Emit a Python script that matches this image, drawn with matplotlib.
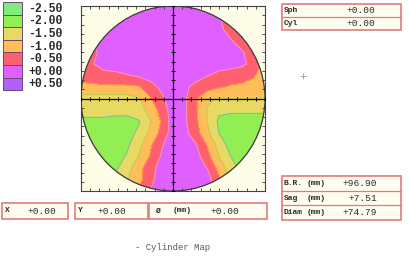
import numpy as np
import matplotlib
matplotlib.use("Agg")
import matplotlib.pyplot as plt
from matplotlib.patches import Rectangle, Circle

# legend levels and colours
legend_labels = ['-2.50', '-2.00', '-1.50', '-1.00', '-0.50', '+0.00', '+0.50']
legend_colors = ['#80ec80', '#92ee52', '#e8d864', '#ffbe5a', '#ff6070', '#e060ff', '#b060ff']
level_bounds = [-2.75, -2.25, -1.75, -1.25, -0.75, -0.25, 0.25, 0.75]

# cylinder map, 17x17 nodes, top row first (values in -0.5 D steps)
cyl_steps = [
    [0.3, 0.3, 0.2, 0.0, 0.0, 0.0, 0.0, 0.0, 0.0, 0.0, 0.0, 0.0, 0.0, 0.5, 1.0, 1.0, 1.0],
    [0.3, 0.2, 0.0, 0.0, 0.0, 0.0, 0.0, 0.0, 0.0, 0.0, 0.0, 0.0, 0.4, 1.0, 1.0, 1.0, 1.0],
    [0.4, 0.3, 0.1, 0.0, 0.0, 0.0, 0.0, 0.0, 0.0, 0.0, 0.0, 0.0, 0.2, 1.0, 1.0, 1.0, 1.0],
    [0.6, 0.4, 0.2, 0.0, 0.0, 0.0, 0.0, 0.0, 0.0, 0.0, 0.0, 0.0, 0.0, 0.4, 1.0, 1.2, 1.2],
    [1.2, 0.8, 0.1, 0.0, 0.0, 0.0, 0.0, 0.0, 0.0, 0.0, 0.0, 0.0, 0.0, 0.1, 0.4, 1.0, 1.3],
    [1.1, 0.55, 0.1, 0.0, 0.0, 0.0, 0.0, 0.0, 0.0, 0.0, 0.0, 0.0, 0.0, 0.1, 0.3, 0.8, 1.8],
    [1.2, 1.0, 0.8, 0.75, 0.55, 0.35, 0.1, 0.0, 0.0, 0.0, 0.1, 0.45, 0.8, 1.0, 1.1, 1.4, 2.0],
    [1.7, 1.7, 1.7, 1.7, 1.7, 1.6, 0.9, 0.3, 0.0, 0.3, 0.8, 1.1, 1.4, 1.6, 1.7, 1.8, 2.0],
    [2.9, 2.9, 2.9, 2.9, 2.9, 2.6, 1.6, 0.7, 0.0, 0.3, 1.4, 2.3, 2.6, 2.5, 2.5, 2.5, 2.6],
    [3.0, 3.0, 3.0, 3.1, 3.1, 2.9, 2.2, 1.1, 0.0, 0.3, 1.4, 2.6, 3.3, 3.3, 3.3, 3.3, 3.3],
    [3.8, 3.8, 3.8, 3.9, 3.9, 3.6, 2.6, 1.4, 0.0, 0.3, 1.3, 2.5, 3.7, 4.0, 4.0, 4.0, 4.0],
    [4.1, 4.1, 4.0, 4.0, 3.9, 3.3, 2.3, 1.2, 0.0, 0.2, 1.1, 2.3, 3.5, 4.0, 4.0, 4.0, 4.0],
    [4.1, 4.1, 4.1, 4.0, 3.7, 2.8, 1.7, 0.6, 0.0, 0.0, 0.45, 1.6, 2.9, 3.9, 4.0, 4.0, 4.0],
    [4.2, 4.2, 4.1, 3.9, 3.4, 2.5, 1.45, 0.4, 0.0, 0.0, 0.1, 1.2, 2.5, 3.5, 3.9, 4.0, 4.0],
    [4.3, 4.3, 4.2, 3.7, 2.9, 1.9, 0.9, 0.1, 0.0, 0.0, 0.0, 0.55, 1.9, 3.0, 3.8, 4.0, 4.0],
    [4.0, 3.8, 3.5, 3.0, 2.6, 1.9, 0.75, 0.1, 0.0, 0.0, 0.0, 0.1, 1.3, 2.5, 3.3, 3.8, 4.0],
    [3.8, 3.4, 3.0, 2.5, 2.0, 1.3, 0.5, 0.0, 0.0, 0.0, 0.0, 0.0, 0.8, 2.0, 3.0, 3.6, 4.0],
]
line_colors = ['#5cc890', '#b8d050', '#ff9a40', '#ff9a9a']
line_levels = [-1.75, -1.25, -0.75, -0.25]

# text boxes
top_box = [('Sph', '', '+0.00'), ('Cyl', '', '+0.00')]
lens_box = [('B.R.', '(mm)', '+96.90'), ('Sag', '(mm)', '+7.51'), ('Diam', '(mm)', '+74.79')]
pos_boxes = [('X', '', '+0.00'), ('Y', '', '+0.00'), ('\u00d8', '(mm)', '+0.00')]
caption = '- Cylinder Map'

W, H = 410, 256
fig = plt.figure(figsize=(W / 100, H / 100), dpi=100)
fig.patch.set_facecolor('white')
mono = 'Liberation Mono'
txt_col = '#2a2a2a'
box_edge = '#e27c7c'
box_face = '#fffdf0'

# overlay in pixel coordinates
bg = fig.add_axes([0, 0, 1, 1])
bg.set_xlim(0, W)
bg.set_ylim(H, 0)
bg.axis('off')

# legend swatches
sw_h = 12.6
for i, (lab, col) in enumerate(zip(legend_labels, legend_colors)):
    y0 = 2 + i * sw_h
    bg.add_patch(Rectangle((3, y0), 19, sw_h, facecolor=col, edgecolor='#6a4a6a', lw=0.7))
    bg.text(28, y0 + sw_h / 2 + 0.5, lab, family=mono, fontsize=8.3, fontweight='bold',
            color=txt_col, va='center', ha='left')


def draw_box(x0, y0, w, rows, row_h, label_x, unit_x, val_x):
    bg.add_patch(Rectangle((x0, y0), w, row_h * len(rows), facecolor=box_face,
                           edgecolor=box_edge, lw=1.2))
    for k, (lab, unit, val) in enumerate(rows):
        yc = y0 + row_h * (k + 0.5)
        if k > 0:
            bg.plot([x0, x0 + w], [y0 + row_h * k] * 2, color=box_edge, lw=0.9)
        bg.text(label_x, yc, lab, family=mono, fontsize=5.8, fontweight='bold',
                color=txt_col, va='center', ha='left')
        if unit:
            bg.text(unit_x, yc, unit, family=mono, fontsize=5.8, fontweight='bold',
                    color=txt_col, va='center', ha='center')
        bg.text(val_x, yc, val, family=mono, fontsize=6.8, color=txt_col,
                va='center', ha='right')


draw_box(282, 4, 119, top_box, 13, 284, 0, 375)
draw_box(282, 176, 119, lens_box, 14.7, 284, 316, 377)
draw_box(2, 203, 66, [pos_boxes[0]], 16, 5, 0, 56)
draw_box(75, 203, 73, [pos_boxes[1]], 16, 78, 0, 126)
draw_box(149, 203, 118, [pos_boxes[2]], 16, 156, 182, 239)

bg.plot([303], [76], marker='+', ms=4, color='#9a9a9a', mew=0.6)
bg.text(135, 247, caption, family=mono, fontsize=6.4, color='#555555', va='center', ha='left')

# the map
ax = fig.add_axes([81 / W, 1 - 191 / H, 184 / W, 185 / H])
ax.set_facecolor('#fdfce6')
ax.set_xlim(-1, 1)
ax.set_ylim(-1, 1)

gx = np.linspace(-1, 1, 17)
gy = np.linspace(1, -1, 17)
X, Y = np.meshgrid(gx, gy)
Z = -0.5 * np.array(cyl_steps)

disk = Circle((0, 0), 1, transform=ax.transData, facecolor='none', edgecolor='none')
ax.add_patch(disk)
cf = ax.contourf(X, Y, Z, levels=level_bounds, colors=legend_colors)
cf.set_clip_path(disk)
cl = ax.contour(X, Y, Z, levels=line_levels, colors=line_colors, linewidths=0.7)
cl.set_clip_path(disk)
ax.add_patch(Circle((0, 0), 1, fill=False, edgecolor='#3a3a3a', lw=0.9, zorder=5))

ax.axhline(0, color='black', lw=0.9, zorder=6)
ax.axvline(0, color='black', lw=0.9, zorder=6)
tick_pos = np.arange(-10, 11) / 10
ax.plot(tick_pos, np.zeros_like(tick_pos), ls='none', marker='|', ms=3, mew=0.7, color='black', zorder=6)
ax.plot(np.zeros_like(tick_pos), tick_pos, ls='none', marker='_', ms=3, mew=0.7, color='black', zorder=6)

ax.set_xticks(tick_pos)
ax.set_yticks(tick_pos)
ax.tick_params(direction='in', length=2.5, width=0.6, top=True, right=True,
               labelbottom=False, labelleft=False, colors='#333333')
for s in ax.spines.values():
    s.set_color('#444444')
    s.set_linewidth(0.8)

fig.savefig('out.png', dpi=100)
